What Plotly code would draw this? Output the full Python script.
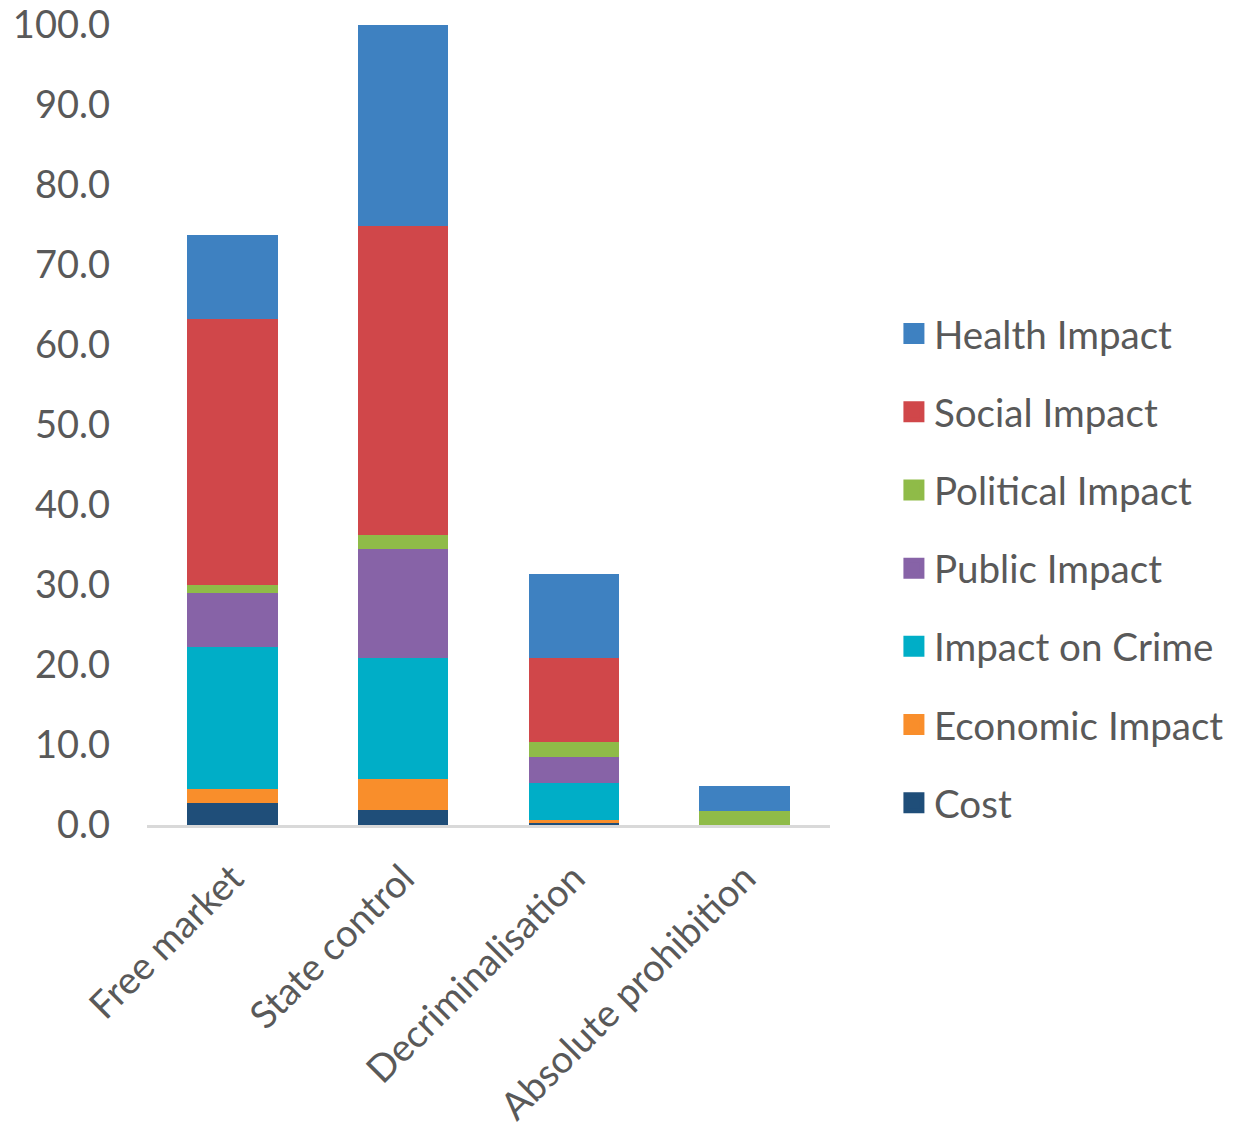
import plotly.graph_objects as go

categories = ["Free market", "State control", "Decriminalisation", "Absolute prohibition"]

cost = [2.8, 1.9, 0.2, 0.0]
economic_impact = [1.7, 3.9, 0.4, 0.0]
impact_on_crime = [17.8, 15.1, 4.7, 0.0]
public_impact = [6.7, 13.6, 3.2, 0.0]
political_impact = [1.0, 1.75, 1.9, 1.8]
social_impact = [33.3, 38.6, 10.5, 0.0]
health_impact = [10.4, 25.1, 10.5, 3.1]

series = [
    ("Cost", cost, "#1F4E79"),
    ("Economic Impact", economic_impact, "#F98E2B"),
    ("Impact on Crime", impact_on_crime, "#00AEC7"),
    ("Public Impact", public_impact, "#8763A7"),
    ("Political Impact", political_impact, "#8FBB48"),
    ("Social Impact", social_impact, "#D0474A"),
    ("Health Impact", health_impact, "#3E81C1"),
]

y_ticks = [0, 10, 20, 30, 40, 50, 60, 70, 80, 90, 100]

FONT = "Lato"
GREY = "#595959"
FS = 38

fig = go.Figure()
for name, vals, color in series:
    fig.add_trace(go.Bar(
        x=categories, y=vals, name=name,
        marker=dict(color=color, line=dict(width=0)),
        showlegend=False,
    ))
# legend entries (square markers), top entry = last stacked series
for name, vals, color in reversed(series):
    fig.add_trace(go.Scatter(
        x=[None], y=[None], mode="markers", name=name, legendgroup=name,
        marker=dict(symbol="square", size=16, color=color,
                    line=dict(color=color, width=6)),
        showlegend=True,
    ))

fig.update_layout(
    barmode="stack",
    bargap=0.47,
    width=1233, height=1127,
    margin=dict(l=147, r=403, t=25, b=302),
    paper_bgcolor="white", plot_bgcolor="white",
    font=dict(family=FONT, size=FS, color=GREY),
    legend=dict(
        traceorder="grouped",
        xref="container", yref="container",
        x=0.725, xanchor="left",
        y=1 - 302 / 1127, yanchor="top",
        tracegroupgap=25,
        font=dict(family=FONT, size=38.6, color=GREY),
        itemwidth=30,
        bgcolor="rgba(0,0,0,0)",
    ),
    xaxis=dict(
        tickangle=-45,
        automargin=False,
        showline=True, linecolor="#D9D9D9", linewidth=2.5,
        ticks="", showgrid=False,
        ticklabelstandoff=13,
        tickfont=dict(family=FONT, size=FS, color=GREY),
    ),
    yaxis=dict(
        range=[0, 100],
        automargin=False,
        tickvals=y_ticks,
        ticktext=[f"{v:.1f}" for v in y_ticks],
        showgrid=False, zeroline=False, showline=False, ticks="",
        ticklabelstandoff=36,
        tickfont=dict(family=FONT, size=FS, color=GREY),
    ),
)

fig.write_html("out.html")
